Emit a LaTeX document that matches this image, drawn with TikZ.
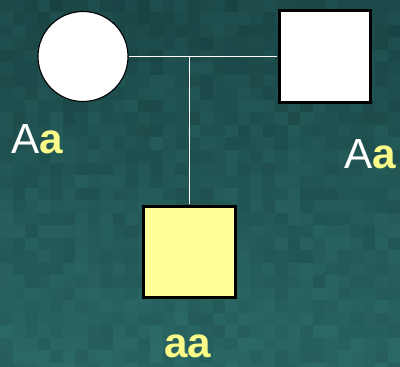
\documentclass[tikz,border=0pt]{standalone}
\usepackage{fontspec}
\setmainfont{Liberation Sans}
\usetikzlibrary{positioning}

\definecolor{bgdark}{HTML}{173F40}
\definecolor{bglight}{HTML}{2C6C68}
\definecolor{pedyellow}{HTML}{FFFF99}
\definecolor{lblyellow}{HTML}{FAFA88}

\tikzset{
  female/.style={circle, draw=black, fill=white, line width=0.8pt, minimum size=2.25cm, inner sep=0pt},
  male/.style={rectangle, draw=black, fill=white, line width=2.1pt, minimum size=2.28cm, inner sep=0pt},
  affected/.style={fill=pedyellow},
  link/.style={draw=white, line width=1.1pt},
  geno/.style={font=\fontsize{30}{30}\selectfont, text=white, inner sep=0pt, anchor=base},
}

\begin{document}
\begin{tikzpicture}[x=0.025cm, y=-0.025cm]
    \useasboundingbox (0,0) rectangle (400,367);
    \clip (0,0) rectangle (400,367);
    % Background
    \pgfmathsetseed{11}
    \foreach \i in {0,...,31}{
      \foreach \j in {0,...,29}{
        \pgfmathtruncatemacro{\tint}{min(100,8+2.2*\j+28*rnd)}
        \fill[bglight!\tint!bgdark] (\i*12.5,\j*12.5) rectangle ++(12.6,12.6);
      }
    }

    % Family
    \node[female] (mother) at (83,56.5) {};
    \node[male] (father) at (325,56.5) {};
    \node[male, affected] (child) at (189.5,252) {};
    \coordinate (mid) at (mother.east -| child.north);
    \draw[link, shorten <=0.4pt, shorten >=1pt] (mother.east) -- (father.west);
    \draw[link, shorten >=1pt] (mid) -- (child.north);

    % Genotypes
    \node[geno] (gmother) at (37,153) {A\textcolor{lblyellow}{\textbf{a}}};
    \node[geno] (gfather) at (370,168) {A\textcolor{lblyellow}{\textbf{a}}};
    \node[geno, text=lblyellow] (gchild) at (188,357) {\textbf{aa}};
\end{tikzpicture}
\end{document}
